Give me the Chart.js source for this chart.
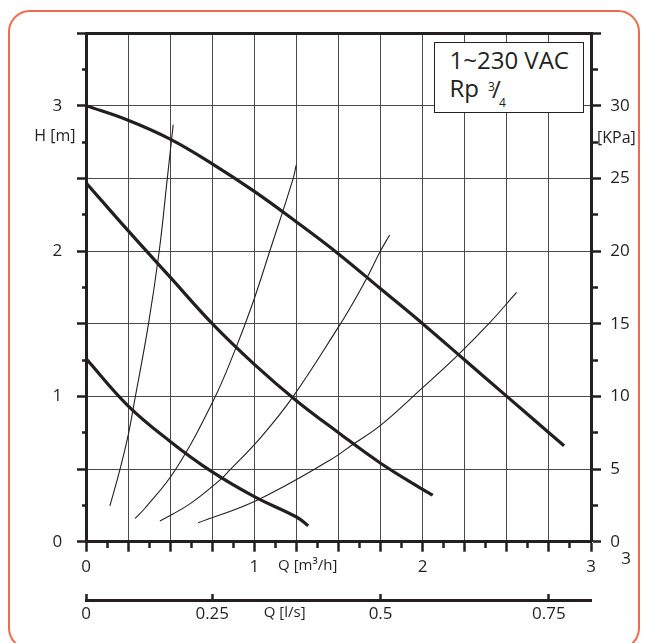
<!DOCTYPE html>
<html>
<head>
<meta charset="utf-8">
<script src="https://cdn.jsdelivr.net/npm/chart.js@4.4.1/dist/chart.umd.min.js"></script>
<style>
  html, body { margin: 0; padding: 0; background: #fff; }
  #wrap { position: relative; width: 648px; height: 643px; overflow: hidden; font-family: 'Open Sans', sans-serif; color: #231f20; }
  #frame { position: absolute; left: 8px; top: 10px; width: 632px; height: 640px; box-sizing: border-box;
           border: 2.5px solid #ee6a4d; border-radius: 22px; }
  #pumpChart { position: absolute; left: 0; top: 0; }
  #badge { position: absolute; left: 434px; top: 42px; width: 150px; height: 71px; box-sizing: border-box;
           border: 1.5px solid #231f20; background: #fff; }
  .txt { position: absolute; white-space: nowrap; }
</style>
</head>
<body>
<div id="wrap">
  <div id="frame"></div>
  <canvas id="pumpChart" width="648" height="643"></canvas>
  <div id="badge"></div>
  <span class="txt" style="left:449.5px; top:47.5px; font-size:24px; line-height:24px;">1~230 VAC</span>
  <span class="txt" style="left:449.5px; top:75.8px; font-size:24px; line-height:24px;">Rp</span>
  <span class="txt" style="left:488px; top:81px; font-size:12px; line-height:12px;">3</span>
  <span class="txt" style="left:492px; top:77px; font-size:24px; line-height:24px;">/</span>
  <span class="txt" style="left:499px; top:97.2px; font-size:12px; line-height:12px;">4</span>
  <span class="txt" style="left:621.3px; top:548.7px; font-size:17px; line-height:17px;">3</span>
</div>
<script>
// pump curves, Q in m3/h, H in m
const flowMax = [0, 0.25, 0.5, 0.75, 1, 1.25, 1.5, 1.75, 2, 2.25, 2.5, 2.75, 2.84];
const headMax = [3.0, 2.90, 2.77, 2.60, 2.41, 2.20, 1.98, 1.74, 1.50, 1.25, 1.0, 0.75, 0.66];
const flowMid = [0, 0.25, 0.5, 0.75, 1, 1.25, 1.5, 1.75, 2, 2.06];
const headMid = [2.47, 2.14, 1.82, 1.50, 1.22, 0.97, 0.75, 0.54, 0.36, 0.32];
const flowMin = [0, 0.25, 0.5, 0.75, 1, 1.25, 1.32];
const headMin = [1.26, 0.935, 0.69, 0.48, 0.31, 0.17, 0.11];

// system curves
const sys1Flow = [0.142, 0.198, 0.25, 0.287, 0.37, 0.435, 0.483, 0.518];
const sys1Head = [0.247, 0.48, 0.73, 0.96, 1.49, 2.0, 2.5, 2.87];
const sys2Flow = [0.291, 0.35, 0.528, 0.756, 0.886, 0.987, 1.092, 1.231, 1.248];
const sys2Head = [0.16, 0.23, 0.49, 0.97, 1.32, 1.63, 2.0, 2.5, 2.59];
const sys3Flow = [0.439, 0.617, 0.795, 0.852, 1.04, 1.231, 1.507, 1.58, 1.662, 1.749, 1.804];
const sys3Head = [0.142, 0.26, 0.424, 0.49, 0.72, 1.0, 1.49, 1.63, 1.80, 2.0, 2.11];
const sys4Flow = [0.666, 1.013, 1.448, 1.587, 1.749, 2.0, 2.206, 2.393, 2.558];
const sys4Head = [0.13, 0.284, 0.56, 0.67, 0.80, 1.06, 1.28, 1.5, 1.715];

// axis labels
const flowTickValues = [0, 1, 2, 3];
const flowTickLabels = ['0', '1', '2', '3'];
const headTickValues = [0, 1, 2, 3];
const headTickLabels = ['0', '1', '2', '3'];
const kpaTickValues = [0, 5, 10, 15, 20, 25, 30];
const kpaTickLabels = ['0', '5', '10', '15', '20', '25', '30'];
const lsTickValues = [0, 0.75, 1.75, 2.75];   // position on the m3/h scale
const lsTickLabels = ['0', '0.25', '0.5', '0.75'];

const flowTitle = 'Q [m\u00b3/h]', flowTitlePos = 1.317;
const lsTitle = 'Q [l/s]', lsTitlePos = 1.18;
const headTitle = 'H [m]', headTitlePos = 2.785;
const kpaTitle = '[KPa]', kpaTitlePos = 27.73;

const ink = '#231f20';
const gridColor = '#4a4a4a';
Chart.defaults.font.family = "'Open Sans', sans-serif";
Chart.defaults.color = ink;

const near = (a, b) => Math.abs(a - b) < 1e-6;
const isStep = (v, step) => near(v / step, Math.round(v / step));
const lookup = (vals, labels, v) => {
  const i = vals.findIndex(t => near(t, v));
  return i < 0 ? '' : labels[i];
};
const steps = (max, step) => Array.from({ length: Math.round(max / step) + 1 }, (_, i) => i * step);
const tv = c => (c.tick ? c.tick.value : 0);

function curve(xs, ys) {
  return xs.map((x, i) => ({ x: x, y: ys[i] }));
}

const datasets = [
  { data: curve(flowMax, headMax), borderWidth: 3.2 },
  { data: curve(flowMid, headMid), borderWidth: 3.2 },
  { data: curve(flowMin, headMin), borderWidth: 3.2 },
  { data: curve(sys1Flow, sys1Head), borderWidth: 1.1 },
  { data: curve(sys2Flow, sys2Head), borderWidth: 1.1 },
  { data: curve(sys3Flow, sys3Head), borderWidth: 1.1 },
  { data: curve(sys4Flow, sys4Head), borderWidth: 1.1 }
].map(d => Object.assign({
  borderColor: ink, pointRadius: 0, fill: false, tension: 0.4
}, d));

new Chart(document.getElementById('pumpChart'), {
  type: 'line',
  data: { datasets: datasets },
  options: {
    responsive: false,
    animation: false,
    devicePixelRatio: 1,
    layout: { padding: { top: 33, left: 0, right: 0, bottom: 0 } },
    plugins: { legend: { display: false }, tooltip: { enabled: false } },
    scales: {
      x: {
        type: 'linear', position: 'bottom', min: 0, max: 3, weight: 0,
        afterBuildTicks: s => { s.ticks = steps(3, 0.125).concat([flowTitlePos]).map(v => ({ value: v })); },
        afterFit: s => { s.height = 58.3; },
        ticks: {
          autoSkip: false, maxRotation: 0, padding: 5,
          font: c => ({ size: near(tv(c), flowTitlePos) ? 15 : 17 }),
          callback: v => near(v, flowTitlePos) ? flowTitle : lookup(flowTickValues, flowTickLabels, v)
        },
        grid: {
          color: c => isStep(tv(c), 0.25) ? gridColor : 'transparent',
          lineWidth: 1,
          tickLength: 10, tickWidth: 2.5,
          tickColor: c => near(tv(c), flowTitlePos) ? 'transparent' : ink,
          tickBorderDash: c => isStep(tv(c), 0.25) ? [] : [5, 100]
        },
        border: { display: true, color: ink, width: 3 }
      },
      x2: {
        type: 'linear', position: 'bottom', min: 0, max: 3, weight: 1,
        afterBuildTicks: s => { s.ticks = lsTickValues.concat([lsTitlePos]).map(v => ({ value: v })); },
        afterFit: s => { s.height = 43; },
        ticks: {
          autoSkip: false, maxRotation: 0, padding: 9.5,
          font: c => ({ size: near(tv(c), lsTitlePos) ? 15 : 17 }),
          callback: v => near(v, lsTitlePos) ? lsTitle : lookup(lsTickValues, lsTickLabels, v)
        },
        grid: {
          drawOnChartArea: false,
          tickLength: -6, tickWidth: 2.5,
          tickColor: c => near(tv(c), lsTitlePos) ? 'transparent' : ink
        },
        border: { display: true, color: ink, width: 3 }
      },
      y: {
        type: 'linear', position: 'left', min: 0, max: 3.5,
        afterBuildTicks: s => { s.ticks = steps(3.5, 0.25).concat([headTitlePos]).map(v => ({ value: v })); },
        afterFit: s => { s.width = 86; },
        ticks: {
          autoSkip: false, padding: 1.5,
          font: c => ({ size: near(tv(c), headTitlePos) ? 16 : 17 }),
          callback: v => {
            if (near(v, headTitlePos)) return headTitle;
            const l = lookup(headTickValues, headTickLabels, v);
            return l ? l + '   ' : '';
          }
        },
        grid: {
          color: c => {
            const v = tv(c);
            if (near(v, 3.5)) return ink;
            return isStep(v, 0.5) ? gridColor : 'transparent';
          },
          lineWidth: c => near(tv(c), 3.5) ? 3 : 1,
          tickLength: 9, tickWidth: 2.5,
          tickColor: c => near(tv(c), headTitlePos) ? 'transparent' : ink,
          tickBorderDash: c => isStep(tv(c), 0.5) ? [] : [0, 5, 100, 0]
        },
        border: { display: true, color: ink, width: 3 }
      },
      y2: {
        type: 'linear', position: 'right', min: 0, max: 35,
        afterBuildTicks: s => { s.ticks = steps(35, 2.5).concat([kpaTitlePos]).map(v => ({ value: v })); },
        afterFit: s => { s.width = 57; },
        ticks: {
          autoSkip: false, padding: -4,
          font: c => ({ size: near(tv(c), kpaTitlePos) ? 16 : 17 }),
          callback: v => {
            if (near(v, kpaTitlePos)) return kpaTitle;
            const l = lookup(kpaTickValues, kpaTickLabels, v);
            return l ? '   ' + l : '';
          }
        },
        grid: {
          drawOnChartArea: false,
          tickLength: 10, tickWidth: 2.5,
          tickColor: c => near(tv(c), kpaTitlePos) ? 'transparent' : ink,
          tickBorderDash: c => isStep(tv(c), 5) ? [] : [5, 100]
        },
        border: { display: true, color: ink, width: 3 }
      }
    }
  }
});
</script>
</body>
</html>
